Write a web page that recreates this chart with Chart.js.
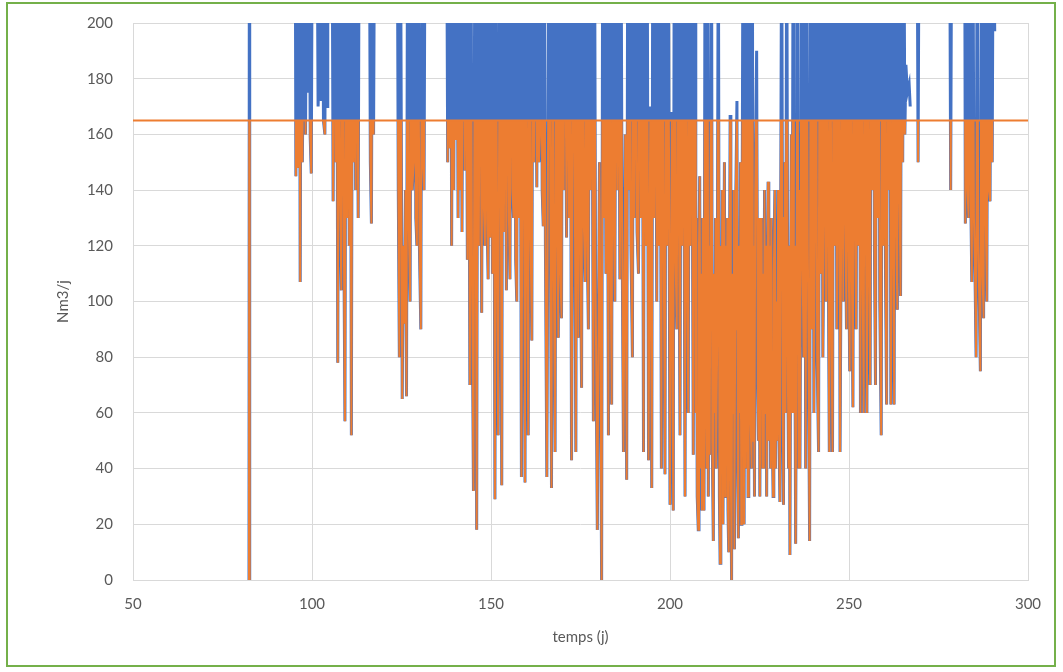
<!DOCTYPE html>
<html lang="fr">
<head>
<meta charset="utf-8">
<title>Nm3/j</title>
<script src="https://cdn.jsdelivr.net/npm/chart.js@4.4.1/dist/chart.umd.min.js"></script>
<style>
  html, body { margin: 0; padding: 0; background: #ffffff; }
  #cadre {
    position: absolute; left: 6px; top: 2px;
    width: 1050px; height: 665px;
    border: 2px solid #74b04a; box-sizing: border-box;
  }
  #zone { position: absolute; left: 0; top: 0; width: 1063px; height: 672px; }
  #myChart { display: block; }
</style>
</head>
<body>
<div id="zone"><canvas id="myChart" width="1063" height="672"></canvas></div>
<div id="cadre"></div>
<script>
// Débit journalier (Nm3/j) en fonction du temps (j) ; null = pas de mesure
const jours = [
  82.4, 82.5, 82.6, 83,
  95.3, 95.5, 95.8, 96.0, 96.3, 96.5, 96.7, 97.0, 97.3, 97.5, 97.8, 98.2, 98.5, 98.9, 99.2, 99.5, 99.8, 100.1, 100.6,
  101.4, 101.7, 102.0, 102.3, 102.6, 102.9, 103.2, 103.6, 103.9, 104.2, 104.4, 104.9,
  105.6, 105.9, 106.2, 106.6, 106.9, 107.2, 107.5, 107.8, 108.2, 108.5, 108.8, 109.2, 109.5,
  109.8, 110.1, 110.4, 110.7, 111.0, 111.3, 111.6, 111.9, 112.2, 112.5, 112.9, 113.2, 113.7,
  116.0, 116.3, 116.6, 116.9, 117.2, 117.5, 118.0,
  123.8, 124.1, 124.4, 124.7, 125.2, 125.5, 125.8, 126.1, 126.4, 126.7, 127.0, 127.4, 127.7,
  128.0, 128.4, 128.7, 129.0, 129.3, 129.6, 130.0, 130.4, 130.7, 131.0, 131.3, 131.6, 132.1,
  137.6, 137.9, 138.2, 138.5, 138.8, 139.0, 139.3, 139.6, 139.9, 140.2,
  140.5, 140.8, 141.1, 141.3, 141.6, 141.9, 142.2, 142.7, 143.0, 143.4,
  143.7, 144.1, 144.4, 144.7, 145.1, 145.5, 146.0, 146.3, 146.6, 146.9,
  147.4, 147.7, 148.0, 148.3, 148.6, 148.9, 149.2, 149.5, 149.8, 150.1,
  150.4, 150.7, 151.1, 151.4, 151.7, 152.0, 152.5, 153.0, 153.3, 153.6,
  153.9, 154.3, 154.6, 155.0, 155.3, 155.6, 156.0, 156.3, 156.6, 156.9,
  157.2, 157.5, 157.8, 158.1, 158.5, 159.0, 159.5, 159.8, 160.1, 160.4,
  160.7, 161.0, 161.4, 161.7, 162.0, 162.3, 162.8, 163.1, 163.4, 163.7,
  164.0, 164.3, 164.6, 164.9, 165.2, 165.6, 166.2, 166.9, 167.2, 167.5,
  167.9, 168.2, 168.5, 168.8, 169.1, 169.4, 169.7, 170.0, 170.3, 170.6,
  171.1, 171.4, 171.8, 172.1, 172.5, 173.1, 173.7, 174.0, 174.4, 174.7,
  175.0, 175.3, 175.6, 175.9, 176.3, 176.6, 176.9, 177.2, 177.5, 177.8,
  178.1, 178.6, 178.9, 179.2, 179.7, 180.3, 180.9, 181.2, 181.5, 181.8,
  182.1, 182.4, 182.8, 183.1, 183.4, 183.7, 184.0, 184.3, 184.6, 184.9,
  185.3, 185.6, 186.0, 186.3, 186.6, 187.0, 187.5, 187.9, 188.2, 188.5,
  188.8, 189.1, 189.5, 189.8, 190.1, 190.4, 190.8, 191.2, 191.5, 191.9,
  192.2, 192.6, 192.9, 193.3, 193.6, 194.0, 194.5, 194.9, 195.2, 195.6,
  195.9, 196.3, 196.6, 196.9, 197.2, 197.6, 197.9, 198.2, 198.6, 198.9,
  199.2, 199.5, 200.0, 200.5, 200.9, 201.2, 201.5, 201.9, 202.2, 202.5,
  202.8, 203.1, 203.4, 203.7, 204.2, 204.5, 204.8, 205.1, 205.4, 205.7,
  206.0, 206.5, 206.8,
  207.0, 207.2, 207.4, 207.6, 207.9, 208.1, 208.3, 208.5, 208.7, 208.9,
  209.1, 209.3, 209.5, 209.8, 210.0, 210.2, 210.5, 210.7, 210.9, 211.1,
  211.3, 211.6, 211.8, 212.1, 212.3, 212.5, 212.7, 212.9, 213.2, 213.5,
  213.8, 214.0, 214.2, 214.4, 214.6, 214.8, 215.0, 215.2, 215.4, 215.6,
  215.8, 216.0, 216.2, 216.4, 216.6, 216.8, 217.0, 217.2, 217.4, 217.6,
  217.8, 218.0, 218.2, 218.4, 218.7, 218.9, 219.1, 219.3, 219.5, 219.7,
  219.9, 220.1, 220.4, 220.7, 221.0, 221.2, 221.4, 221.6, 221.8, 222.0,
  222.3, 222.5, 222.8, 223.0, 223.2, 223.4, 223.6, 223.8, 224.2, 224.5,
  224.7, 224.9, 225.1, 225.3, 225.6, 225.8, 226.0, 226.2, 226.4, 226.6,
  226.8, 227.0, 227.2, 227.4, 227.6, 227.9, 228.1, 228.3, 228.5, 228.8,
  229.0, 229.3, 229.5, 229.7, 229.9, 230.2, 230.4, 230.7, 230.9, 231.2,
  231.5, 231.7, 231.9, 232.1, 232.3, 232.6, 232.9, 233.1, 233.3, 233.5,
  233.7, 233.9, 234.1, 234.4, 234.6, 234.8, 235.1, 235.3, 235.6, 235.9,
  236.1, 236.3, 236.5, 236.7,
  237.0, 237.3, 237.6, 237.9, 238.2, 238.5, 239.0, 239.3, 239.6, 239.9,
  240.2, 240.5, 240.8, 241.1, 241.5, 241.8, 242.1, 242.4, 242.7, 243.0,
  243.3, 243.6, 243.9, 244.2, 244.5, 244.8, 245.1, 245.4, 245.7, 246.0,
  246.3, 246.6, 246.9, 247.2, 247.5, 247.8, 248.1, 248.4, 248.7, 249.0,
  249.3, 249.6, 249.9, 250.2, 250.5, 250.8, 251.1, 251.4, 251.7, 252.0,
  252.3, 252.6, 252.9, 253.2, 253.5, 253.8, 254.1, 254.4, 254.7, 255.0,
  255.3, 255.6, 255.9, 256.2, 256.5, 256.8, 257.1, 257.4, 257.7, 258.0,
  258.3, 258.6, 259.0, 259.3, 259.6, 259.9, 260.2, 260.5, 260.8, 261.1,
  261.4, 261.7, 262.0, 262.3, 262.6, 262.9, 263.2, 263.5, 263.8, 264.1,
  264.4, 264.7, 265.0, 265.3, 265.6, 265.9, 266.3, 266.8, 267.1, 267.5,
  269.0, 269.3, 269.6, 270,
  278.1, 278.4, 278.7, 279,
  282.3, 282.5, 282.8, 283.1, 283.4, 283.7, 284.0, 284.3, 284.6, 284.9,
  285.2, 285.5, 285.8, 286.1, 286.4, 286.7, 287.0, 287.3, 287.6, 287.9,
  288.2, 288.5, 288.8, 289.1, 289.4, 289.7, 290.0, 290.3, 290.7
];
const debit = [
  0, 250, 0, null,
  250, 145, 250, 148, 150, 250, 107, 250, 150, 178, 250, 160, 250, 175, 250, 159, 146, 250, null,
  250, 170, 183, 250, 172, 250, 165, 160, 250, 170, 250, null,
  250, 136, 250, 150, 250, 78, 250, 140, 104, 250, 145, 57, 250,
  130, 250, 120, 250, 52, 250, 150, 250, 140, 250, 130, 250, null,
  250, 150, 128, 250, 160, 250, null,
  250, 140, 80, 250, 65, 120, 92, 140, 66, 250, 130, 100, 250,
  140, 150, 250, 130, 120, 250, 120, 90, 250, 150, 140, 250, null,
  250, 150, 250, 155, 250, 120, 250, 140, 250, 158,
  250, 130, 250, 140, 250, 125, 250, 147, 250, 115,
  250, 70, 250, 110, 32, 250, 18, 250, 120, 250,
  96, 250, 135, 120, 250, 130, 108, 250, 123, 250,
  110, 250, 29, 250, 120, 52, 250, 34, 250, 125,
  250, 104, 250, 130, 108, 250, 140, 130, 250, 115,
  100, 250, 130, 250, 37, 250, 35, 250, 120, 52,
  250, 130, 86, 250, 150, 250, 141, 250, 150, 160,
  250, 140, 127, 250, 120, 37, 250, 33, 250, 120,
  46, 250, 130, 87, 250, 110, 94, 250, 140, 250,
  123, 250, 130, 250, 43, 250, 46, 250, 87, 250,
  120, 69, 250, 130, 107, 250, 120, 90, 250, 140,
  250, 57, 250, 110, 18, 150, 0, 250, 130, 250,
  110, 250, 52, 250, 120, 63, 250, 130, 100, 250,
  140, 250, 108, 250, 130, 46, 160, 36, 250, 140,
  250, 120, 80, 250, 130, 250, 125, 110, 250, 130,
  250, 46, 250, 120, 250, 43, 170, 33, 250, 130,
  250, 100, 250, 120, 250, 40, 250, 130, 38, 250,
  120, 250, 27, 168, 25, 250, 120, 90, 250, 130,
  52, 250, 120, 250, 30, 250, 110, 60, 250, 120,
  250, 45, 250,
  250, 60, 130, 30, 18, 120, 145, 40, 110, 25,
  130, 50, 25, 250, 70, 40, 250, 30, 120, 45,
  140, 250, 50, 14, 110, 60, 130, 40, 90, 250,
  30, 6, 120, 50, 140, 20, 100, 150, 30, 120,
  60, 130, 25, 10, 100, 167, 40, 0, 110, 60,
  140, 11, 90, 140, 172, 40, 15, 120, 60, 150,
  20, 100, 250, 20, 250, 40, 110, 250, 30, 130,
  250, 60, 40, 250, 50, 120, 30, 140, 190, 70,
  50, 130, 30, 100, 130, 40, 110, 40, 140, 60,
  120, 30, 110, 143, 50, 120, 40, 130, 60, 30,
  110, 140, 40, 100, 50, 140, 60, 28, 120, 250,
  60, 27, 130, 150, 60, 250, 80, 40, 120, 9,
  100, 160, 60, 250, 60, 120, 13, 90, 250, 40,
  140, 40, 110, 250,
  120, 80, 250, 40, 250, 120, 14, 250, 90, 250,
  60, 130, 250, 80, 46, 250, 110, 250, 80, 130,
  250, 100, 250, 120, 46, 250, 90, 46, 250, 120,
  250, 90, 130, 250, 46, 120, 250, 100, 250, 130,
  90, 250, 120, 75, 250, 110, 62, 250, 130, 90,
  250, 120, 250, 60, 250, 110, 60, 250, 130, 60,
  250, 110, 70, 250, 140, 250, 120, 70, 250, 130,
  250, 100, 52, 250, 120, 250, 110, 63, 250, 140,
  250, 63, 120, 250, 63, 250, 130, 97, 250, 140,
  102, 250, 150, 250, 160, 185, 175, 178, 170, null,
  250, 150, 250, null,
  250, 140, 250, null,
  250, 128, 250, 140, 130, 250, 140, 107, 250, 130,
  110, 80, 250, 120, 100, 75, 250, 110, 94, 250,
  130, 100, 250, 140, 136, 250, 150, 250, 197
];

// Seuil horizontal (Nm3/j) tracé sur toute la période
const plafond = 165;
const seuilJours = [50, 300];
const seuilValeurs = [plafond, plafond];

// Graduations
const xMin = 50, xMax = 300, xPas = 50;
const yMin = 0, yMax = 200, yPas = 20;

const pointsDebit = jours.map((j, i) => ({ x: j, y: debit[i] }));
const pointsSeuil = seuilJours.map((j, i) => ({ x: j, y: seuilValeurs[i] }));

// La courbe orange ne garde que la partie sous le plafond
const coupePlafond = {
  id: 'coupePlafond',
  beforeDatasetDraw(chart, args) {
    if (!chart.data.datasets[args.index].sousPlafond) return;
    const { ctx, chartArea, scales } = chart;
    const yP = scales.y.getPixelForValue(plafond);
    ctx.save();
    ctx.beginPath();
    ctx.rect(chartArea.left, yP, chartArea.right - chartArea.left, chartArea.bottom - yP);
    ctx.clip();
  },
  afterDatasetDraw(chart, args) {
    if (!chart.data.datasets[args.index].sousPlafond) return;
    chart.ctx.restore();
  }
};

const police = { family: 'Lato, "Open Sans", sans-serif', size: 15 };
const gris = '#595959';

const ctx = document.getElementById('myChart').getContext('2d');
const myChart = new Chart(ctx, {
  type: 'line',
  data: {
    datasets: [
      {
        data: pointsSeuil,
        borderColor: '#ed7d31',
        borderWidth: 2,
        pointRadius: 0,
        order: 1
      },
      {
        data: pointsDebit,
        borderColor: '#ed7d31',
        borderWidth: 2,
        pointRadius: 0,
        spanGaps: false,
        sousPlafond: true,
        order: 2
      },
      {
        data: pointsDebit,
        borderColor: '#4472c4',
        borderWidth: 3,
        pointRadius: 0,
        spanGaps: false,
        order: 3
      }
    ]
  },
  options: {
    responsive: false,
    animation: false,
    layout: { padding: { left: 0, top: 23, right: 35, bottom: 0 } },
    plugins: {
      legend: { display: false },
      tooltip: { enabled: false }
    },
    scales: {
      x: {
        type: 'linear',
        min: xMin, max: xMax,
        afterFit: (s) => { s.height = 92; },
        ticks: { stepSize: xPas, color: gris, font: police, padding: 15 },
        grid: { color: '#d9d9d9', drawTicks: false },
        border: { color: '#d9d9d9' },
        title: { display: true, text: 'temps (j)', color: gris, font: police, padding: { top: 0, bottom: 26 } }
      },
      y: {
        min: yMin, max: yMax,
        afterFit: (s) => { s.width = 133; },
        ticks: { stepSize: yPas, color: gris, font: police, padding: 4 },
        grid: { color: '#d9d9d9', drawTicks: true, tickLength: 16, tickColor: 'rgba(0,0,0,0)' },
        border: { display: false },
        title: { display: true, text: 'Nm3/j', color: gris, font: police, padding: { top: 54, bottom: 0 } }
      }
    }
  },
  plugins: [coupePlafond]
});
</script>
</body>
</html>
